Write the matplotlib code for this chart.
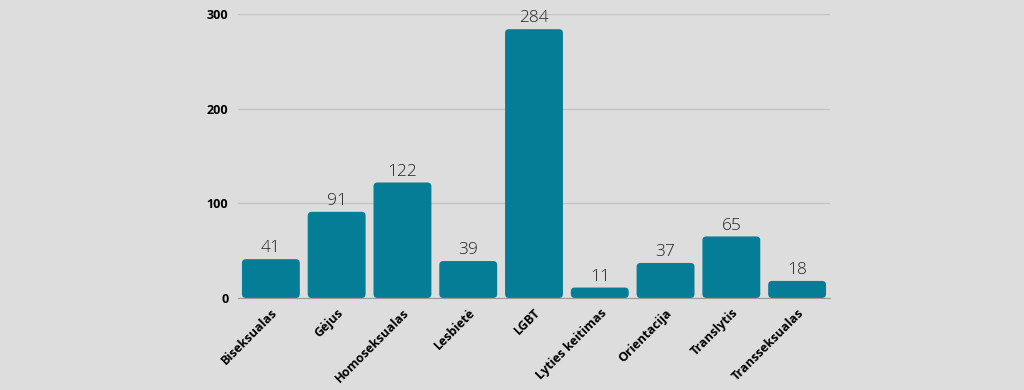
import matplotlib.pyplot as plt
import matplotlib.transforms as mtransforms
from matplotlib.patches import FancyBboxPatch

kategorijos = ["Biseksualas", "Gėjus", "Homoseksualas", "Lesbietė", "LGBT",
               "Lyties keitimas", "Orientacija", "Translytis", "Transseksualas"]
reiksmes = [41, 91, 122, 39, 284, 11, 37, 65, 18]
y_ticks = [0, 100, 200, 300]

plt.rcParams['font.family'] = ['Open Sans', 'DejaVu Sans']
fonas = "#dddddd"
spalva = "#067d96"

fig = plt.figure(figsize=(10.24, 3.9), dpi=100, facecolor=fonas)
ax = fig.add_axes([238 / 1024, 0.236, 592 / 1024, 0.728], facecolor=fonas)

x = list(range(len(kategorijos)))
bars = ax.bar(x, reiksmes, width=0.88, color=spalva)
ax.set_xlim(-0.5, len(kategorijos) - 0.5)
ax.set_ylim(0, 300)

# suapvalinti kampai
for b in bars:
    b.set_visible(False)
    p = FancyBboxPatch((b.get_x(), 0), b.get_width(), b.get_height(),
                       boxstyle="round,pad=0,rounding_size=0.06",
                       mutation_aspect=70, fc=spalva, ec="none", zorder=3)
    ax.add_patch(p)

for xi, v in zip(x, reiksmes):
    ax.text(xi, v + 3, str(v), ha="center", va="bottom", fontsize=12.5,
            fontweight="light", color="#222222", zorder=4, clip_on=False)

ax.set_yticks(y_ticks)
ax.set_yticklabels([str(t) for t in y_ticks], fontweight="bold", fontsize=9)
ax.set_xticks(x)
ax.set_xticklabels(kategorijos, rotation=45, ha="right", rotation_mode="anchor",
                   fontweight="bold", fontsize=9)
poslinkis = mtransforms.ScaledTranslation(5 / 100, 0, fig.dpi_scale_trans)
for lbl in ax.get_xticklabels():
    lbl.set_transform(lbl.get_transform() + poslinkis)
ax.tick_params(length=0, pad=6)
ax.tick_params(axis="y", pad=7)
ax.grid(axis="y", color="#c4c4c4", linewidth=1, zorder=0)
ax.set_axisbelow(True)
for s in ["top", "right", "left"]:
    ax.spines[s].set_visible(False)
ax.spines["bottom"].set_color("#9a9a9a")
ax.spines["bottom"].set_zorder(5)

fig.savefig("out.png", dpi=100, facecolor=fonas)
